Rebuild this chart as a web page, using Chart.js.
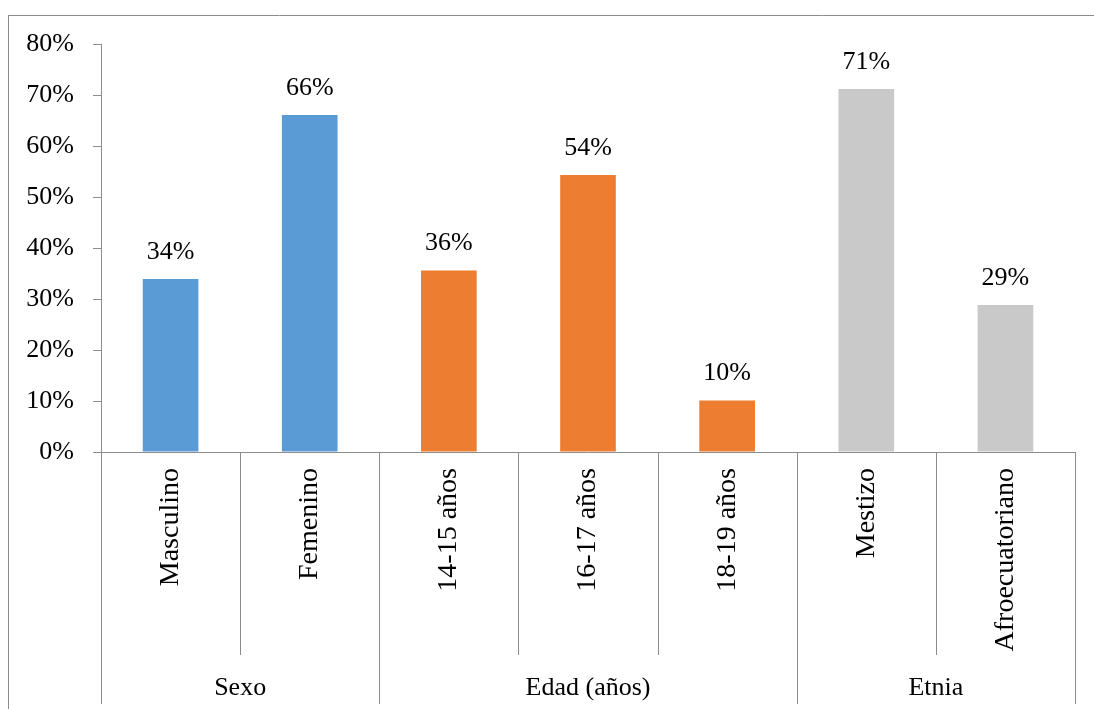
<!DOCTYPE html>
<html><head><meta charset="utf-8">
<script src="https://cdn.jsdelivr.net/npm/chart.js@4.4.1/dist/chart.umd.min.js"></script>
<style>html,body{margin:0;padding:0;background:#fff;overflow:hidden}</style>
</head><body><canvas id="c" width="1094" height="709"></canvas>
<script>
const categories = ['Masculino','Femenino','14-15 años','16-17 años','18-19 años','Mestizo','Afroecuatoriano'];
const groups = ['Sexo','Edad (años)','Etnia'];
const groupSizes = [2,3,2];
const values = [33.9, 66.1, 35.6, 54.3, 10.1, 71.2, 28.8];
const barColors = ['#5B9BD5','#5B9BD5','#ED7D31','#ED7D31','#ED7D31','#C9C9C9','#C9C9C9'];
const yMin = 0, yMax = 80, yStep = 10;

const FONT = "'Liberation Serif', 'Times New Roman', serif";
const AXIS = '#8C8C8C';

const decor = {
  id: 'decor',
  beforeDraw(chart) {
    const ctx = chart.ctx;
    ctx.save();
    ctx.strokeStyle = AXIS;
    ctx.lineWidth = 1;
    ctx.beginPath();
    ctx.moveTo(8, 15.5); ctx.lineTo(1094, 15.5);
    ctx.moveTo(8.5, 15); ctx.lineTo(8.5, 709);
    ctx.stroke();
    ctx.restore();
  },
  afterDatasetsDraw(chart) {
    const ctx = chart.ctx;
    const meta = chart.getDatasetMeta(0);
    ctx.save();
    ctx.fillStyle = '#000';
    ctx.font = '26px ' + FONT;
    ctx.textAlign = 'center';
    ctx.textBaseline = 'middle';
    meta.data.forEach((bar, i) => {
      ctx.fillText(Math.round(values[i]) + '%', bar.x, bar.y - 27);
    });
    ctx.restore();
  },
  afterDraw(chart) {
    const ctx = chart.ctx;
    const x = chart.scales.x;
    const area = chart.chartArea;
    const n = categories.length;
    const step = (x.right - x.left) / n;
    const groupEdges = new Set([0]);
    let acc = 0;
    groupSizes.forEach(s => { acc += s; groupEdges.add(acc); });
    ctx.save();
    ctx.strokeStyle = AXIS;
    ctx.lineWidth = 1;
    ctx.beginPath();
    for (let k = 0; k <= n; k++) {
      const px = Math.round(x.left + k * step) + 0.5;
      ctx.moveTo(px, area.bottom);
      ctx.lineTo(px, groupEdges.has(k) ? 704 : 655);
    }
    ctx.stroke();
    ctx.fillStyle = '#000';
    ctx.font = '26px ' + FONT;
    ctx.textAlign = 'center';
    ctx.textBaseline = 'middle';
    let start = 0;
    groups.forEach((g, gi) => {
      const cx = x.left + (start + groupSizes[gi] / 2) * step;
      ctx.fillText(g, cx, 688);
      start += groupSizes[gi];
    });
    ctx.restore();
  }
};

new Chart(document.getElementById('c'), {
  type: 'bar',
  data: {
    labels: categories,
    datasets: [{
      data: values,
      backgroundColor: barColors,
      borderWidth: 0,
      categoryPercentage: 1.0,
      barPercentage: 0.4
    }]
  },
  options: {
    responsive: false,
    animation: false,
    events: [],
    layout: { padding: { left: 0, top: 44, right: 19, bottom: 0 } },
    plugins: { legend: { display: false }, tooltip: { enabled: false } },
    scales: {
      y: {
        min: yMin, max: yMax,
        ticks: { stepSize: yStep, color: '#000', padding: 19,
                 font: { family: FONT, size: 26 },
                 callback: v => v + '%' },
        grid: { drawOnChartArea: false, drawTicks: true, tickLength: 8, color: AXIS },
        border: { display: true, color: AXIS },
        afterFit(s) { s.width = 101; }
      },
      x: {
        ticks: { color: '#000', padding: 16, minRotation: 90, maxRotation: 90, autoSkip: false,
                 font: { family: FONT, size: 28 } },
        grid: { display: false, drawTicks: false },
        border: { display: true, color: AXIS },
        afterFit(s) { s.height = 257; }
      }
    }
  },
  plugins: [decor]
});
</script>
</body></html>
